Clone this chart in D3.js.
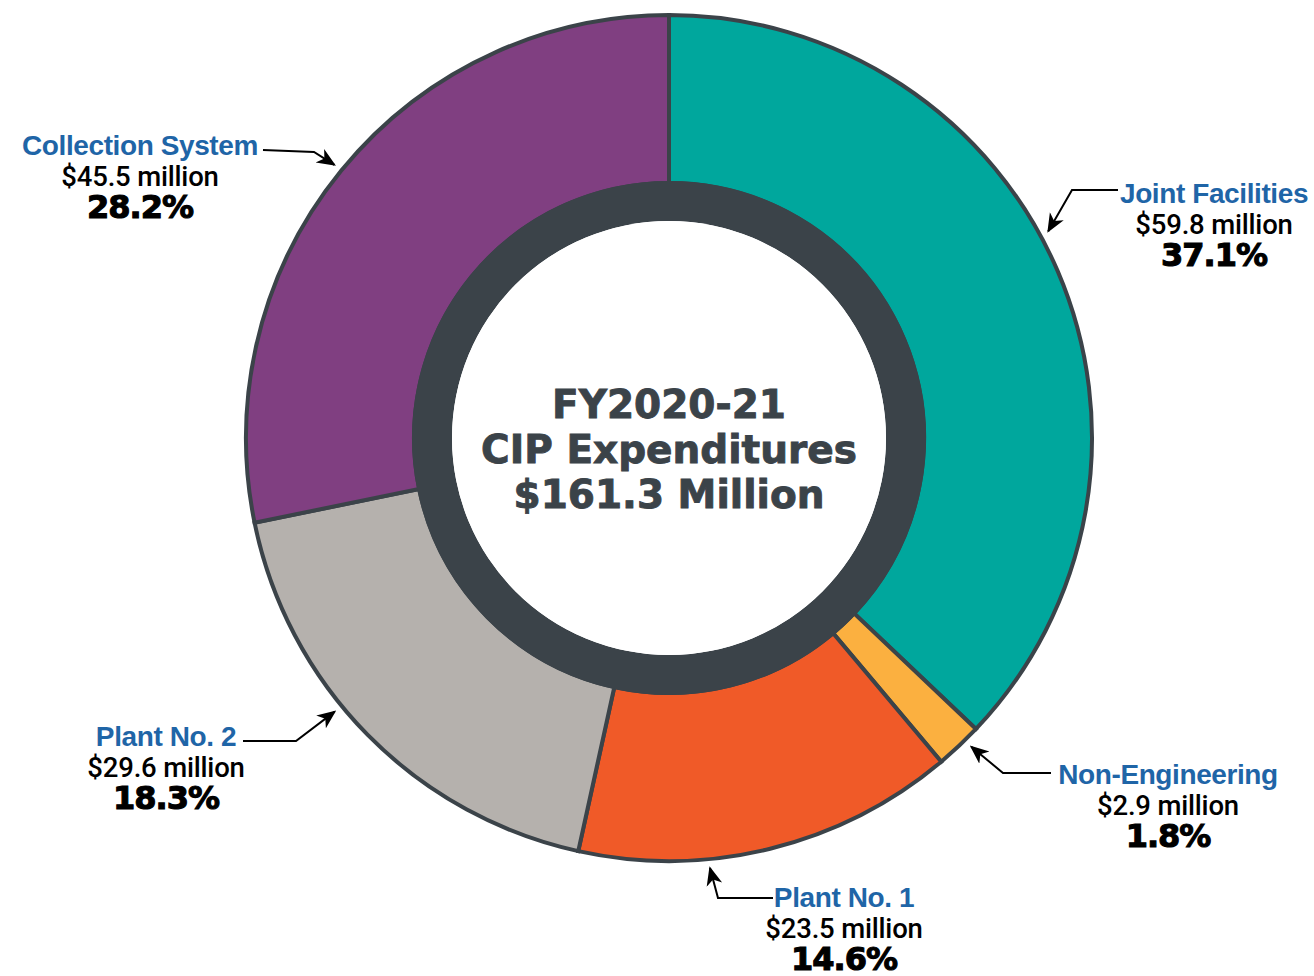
<!DOCTYPE html>
<html>
<head>
<meta charset="utf-8">
<script src="https://cdn.jsdelivr.net/npm/d3@7"></script>
<style>
  body { margin: 0; background: #fff; }
  svg { display: block; }
</style>
</head>
<body>
<div id="wrapper"></div>
<script>
const RING_COLOR = "#3b4349";
const NAME_COLOR = "#1f65a7";

// slices, clockwise from 12 o'clock
const categories = ["Joint Facilities", "Non-Engineering", "Plant No. 1", "Plant No. 2", "Collection System"];
const amounts = [59.8, 2.9, 23.5, 29.6, 45.5];
const amountLabels = ["$59.8 million", "$2.9 million", "$23.5 million", "$29.6 million", "$45.5 million"];
const percentLabels = ["37.1%", "1.8%", "14.6%", "18.3%", "28.2%"];
const colors = ["#00a79d", "#fbb040", "#f05a28", "#b5b1ad", "#803f81"];
const centerLines = ["FY2020-21", "CIP Expenditures", "$161.3 Million"];

// label placement: text centre, elbow of the leader, where on the slice the arrow points
const labelLayout = [
  { x: 1214, y: 203, lineStart: [1118, 190], elbow: [1072, 190], tipAt: 0.46 },
  { x: 1168, y: 784, lineStart: [1051, 773], elbow: [1003, 773], tipAt: 0.33 },
  { x: 844, y: 907, lineStart: [773, 898], elbow: [718, 898], tipAt: 0.66 },
  { x: 166, y: 746, lineStart: [243, 741], elbow: [296, 741], tipAt: 0.58 },
  { x: 140, y: 155, lineStart: [263, 150], elbow: [314, 152], tipAt: 0.5 }
];

const width = 1314;
const height = 976;
const cx = 669;
const cy = 438;
const outerR = 423;
const sliceInnerR = 255;
const ringOuterR = 257;
const ringInnerR = 217;

const data = categories.map((name, i) => ({
  name,
  amount: amounts[i],
  amountLabel: amountLabels[i],
  percentLabel: percentLabels[i],
  color: colors[i],
  layout: labelLayout[i]
}));

const svg = d3.select("#wrapper")
  .append("svg")
  .attr("width", width)
  .attr("height", height);

svg.append("defs")
  .append("marker")
  .attr("id", "arrow")
  .attr("viewBox", "0 0 10 10")
  .attr("refX", 9)
  .attr("refY", 5)
  .attr("markerWidth", 19)
  .attr("markerHeight", 19)
  .attr("markerUnits", "userSpaceOnUse")
  .attr("orient", "auto")
  .append("path")
  .attr("d", "M0,0.8 L10,5 L0,9.2 L2.8,5 Z")
  .attr("fill", "#000");

const pie = d3.pie()
  .sort(null)
  .value(d => d.amount);

const arcs = pie(data);

const arc = d3.arc()
  .innerRadius(sliceInnerR)
  .outerRadius(outerR);

const g = svg.append("g")
  .attr("transform", `translate(${cx},${cy})`);

g.selectAll("path.slice")
  .data(arcs)
  .enter().append("path")
  .attr("class", "slice")
  .attr("d", arc)
  .attr("fill", d => d.data.color)
  .attr("stroke", RING_COLOR)
  .attr("stroke-width", 4);

// dark inner ring
g.append("path")
  .attr("d", d3.arc()
    .innerRadius(ringInnerR)
    .outerRadius(ringOuterR)
    .startAngle(0)
    .endAngle(2 * Math.PI)())
  .attr("fill", RING_COLOR);

g.append("circle")
  .attr("r", ringInnerR)
  .attr("fill", "#fff");

// centre title
const centerText = g.append("text")
  .attr("text-anchor", "middle")
  .attr("fill", RING_COLOR)
  .attr("stroke", RING_COLOR)
  .attr("stroke-width", 0.9)
  .style("font-family", "'DejaVu Sans', sans-serif")
  .style("font-weight", "bold")
  .style("font-size", "39px");

centerText.selectAll("tspan")
  .data(centerLines)
  .enter().append("tspan")
  .attr("x", 0)
  .attr("y", (d, i) => -20 + i * 45)
  .text(d => d);

// leaders
const tipRadius = outerR + 9;
const tipPoint = d => {
  const a = d.startAngle + (d.endAngle - d.startAngle) * d.data.layout.tipAt;
  return [cx + tipRadius * Math.sin(a), cy - tipRadius * Math.cos(a)];
};

svg.selectAll("polyline.leader")
  .data(arcs)
  .enter().append("polyline")
  .attr("class", "leader")
  .attr("points", d => {
    const L = d.data.layout;
    return [L.lineStart, L.elbow, tipPoint(d)].map(p => p.join(",")).join(" ");
  })
  .attr("fill", "none")
  .attr("stroke", "#000")
  .attr("stroke-width", 2)
  .attr("marker-end", "url(#arrow)");

// labels
const labels = svg.selectAll("g.label")
  .data(arcs)
  .enter().append("g")
  .attr("class", "label")
  .attr("transform", d => `translate(${d.data.layout.x},${d.data.layout.y})`)
  .attr("text-anchor", "middle");

labels.append("text")
  .attr("y", 0)
  .attr("fill", NAME_COLOR)
  .style("font-family", "'Liberation Sans', Arial, sans-serif")
  .style("font-weight", "bold")
  .style("font-size", "28px")
  .style("letter-spacing", "-0.4px")
  .text(d => d.data.name);

labels.append("text")
  .attr("y", 31)
  .attr("fill", "#000")
  .style("font-family", "Roboto, sans-serif")
  .style("font-weight", "500")
  .style("font-size", "27.5px")
  .style("letter-spacing", "-0.2px")
  .text(d => d.data.amountLabel);

labels.append("text")
  .attr("y", 63)
  .attr("fill", "#000")
  .attr("stroke", "#000")
  .attr("stroke-width", 1.1)
  .style("font-family", "'DejaVu Sans', sans-serif")
  .style("font-weight", "bold")
  .style("font-size", "32px")
  .style("letter-spacing", "-1px")
  .text(d => d.data.percentLabel);
</script>
</body>
</html>
